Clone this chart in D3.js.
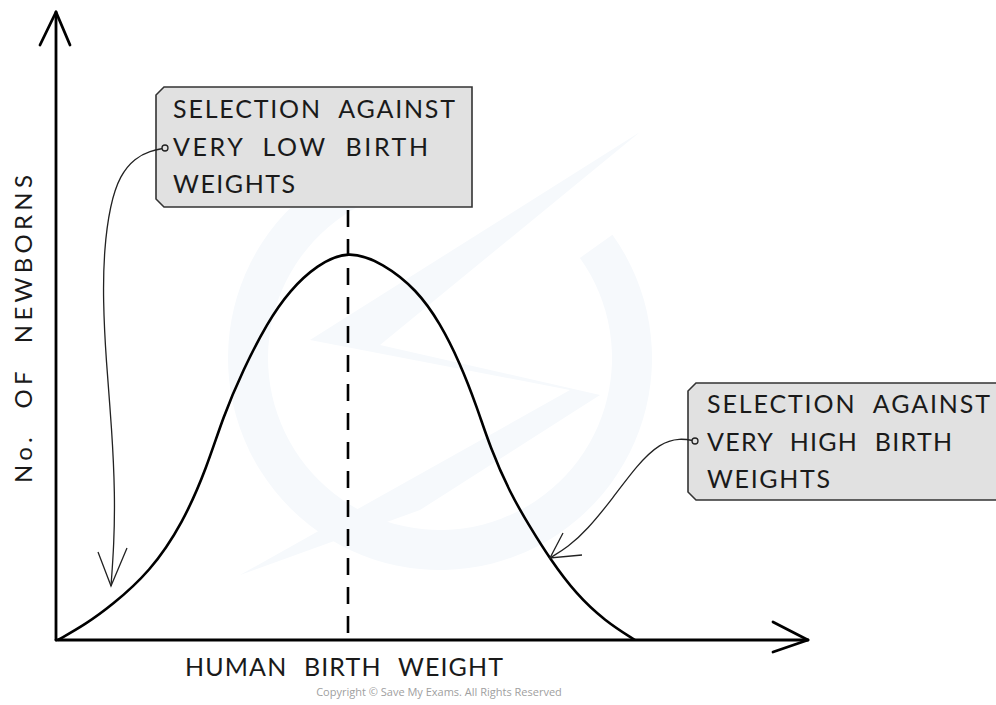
<!DOCTYPE html>
<html>
<head>
<meta charset="utf-8">
<script src="https://cdnjs.cloudflare.com/ajax/libs/d3/7.8.5/d3.min.js"></script>
<style>
	body { margin: 0; background: #fff; }
	svg { display: block; }
	.label { font-family: Lato, "Open Sans", sans-serif; fill: #1a1a1a; word-spacing: 9px; }
</style>
</head>
<body>
<div id="chart"></div>
<script>

// birth weight (arbitrary units) vs number of newborns
const curveX = [2, 30, 55, 94, 127, 151, 167, 187, 211, 234, 261, 292, 327, 361, 384, 404, 421, 434, 454, 474, 494, 520, 549, 579];
const curveY = [0, 16, 34, 68, 117, 173, 223, 270, 317, 350, 375, 390, 377, 350, 317, 277, 233, 193, 147, 113, 81, 46, 19, 0];

const meanX = 292;

const lowLabel = ["SELECTION AGAINST", "VERY LOW BIRTH", "WEIGHTS"];
const highLabel = ["SELECTION AGAINST", "VERY HIGH BIRTH", "WEIGHTS"];
const lowWidths = [282, 255, 122];
const highWidths = [283, 245, 123];

const lowArrowX = [109, 94, 79, 64, 54, 48, 47, 50, 56, 59, 58, 55];
const lowArrowY = [492, 489, 482, 465, 435, 390, 340, 280, 210, 145, 95, 54];
const highArrowX = [639, 624, 604, 581, 557, 531, 512, 494];
const highArrowY = [199, 202, 197, 175, 142, 110, 93, 82];

const xTitle = "HUMAN BIRTH WEIGHT";
const yTitle = "No. OF NEWBORNS";
const copyright = "Copyright \u00a9 Save My Exams. All Rights Reserved";

let width = 996;
let height = 705;

let svg = d3.select('#chart').append('svg')
.attr('width', width)
.attr('height', height);

let x = d3.scaleLinear().domain([0, 752]).range([56, 808]);
let y = d3.scaleLinear().domain([0, 628]).range([640, 12]);

// faint watermark
let mark = svg.append('g').attr('fill', '#f6f9fc');

mark.append('path')
.attr('d', d3.arc()({innerRadius: 172, outerRadius: 212, startAngle: 0.95, endAngle: 2 * Math.PI + 0.15}))
.attr('transform', 'translate(440,358)');

mark.append('path')
.attr('d', 'M640,132 L310,340 L570,390 L240,575 L420,510 L600,395 L380,345 Z');

// curve
let line = d3.line()
.x(d => x(d[0]))
.y(d => y(d[1]))
.curve(d3.curveBasis);

let pts = curveX.map((v, i) => [v, curveY[i]]);

svg.append('path')
.datum(pts)
.attr('d', line)
.attr('fill', 'none')
.attr('stroke', '#000')
.attr('stroke-width', 2.6);

// mean line
svg.append('line')
.attr('x1', x(meanX))
.attr('x2', x(meanX))
.attr('y1', 210)
.attr('y2', y(0))
.attr('stroke', '#000')
.attr('stroke-width', 2.6)
.attr('stroke-dasharray', '17,12');

// axes
let axes = svg.append('g')
.attr('fill', 'none')
.attr('stroke', '#000')
.attr('stroke-width', 2.8)
.attr('stroke-linecap', 'round')
.attr('stroke-linejoin', 'round');

axes.append('path')
.attr('d', `M${x(0)},${y(0)} L${x(0)},${y(628)}`);
axes.append('path')
.attr('d', `M${x(0) - 16},${y(628) + 33} L${x(0)},${y(628)} L${x(0) + 14},${y(628) + 33}`);

axes.append('path')
.attr('d', `M${x(0)},${y(0)} L${x(752)},${y(0)}`);
axes.append('path')
.attr('d', `M${x(752) - 35},${y(0) - 18} L${x(752)},${y(0)} L${x(752) - 35},${y(0) + 12}`);

// callout boxes
const drawBox = (x0, y0, x1, y1, lines, widths, tx, base) => {
	let c = 8;
	let g = svg.append('g');

	g.append('path')
	.attr('d', `M${x0 + c},${y0} L${x1},${y0} L${x1},${y1} L${x0 + c},${y1} L${x0},${y1 - c} L${x0},${y0 + c} Z`)
	.attr('fill', '#e1e1e1')
	.attr('stroke', '#333')
	.attr('stroke-width', 1.6);

	lines.forEach((t, i) => {
		g.append('text')
		.attr('class', 'label')
		.attr('x', tx)
		.attr('y', base + i * 37.5)
		.attr('font-size', 25)
		.attr('textLength', widths[i])
		.text(t);
	})
}

drawBox(156, 87, 472, 207, lowLabel, lowWidths, 173, 118);
drawBox(688, 383, 1010, 500, highLabel, highWidths, 707, 413);

// callout arrows
let thin = d3.line()
.x(d => x(d[0]))
.y(d => y(d[1]))
.curve(d3.curveBasis);

const drawArrow = (xs, ys, arms) => {
	let p = xs.map((v, i) => [v, ys[i]]);

	svg.append('path')
	.datum(p)
	.attr('d', thin)
	.attr('fill', 'none')
	.attr('stroke', '#222')
	.attr('stroke-width', 1.3);

	let tip = p[p.length - 1];
	let tx = x(tip[0]), ty = y(tip[1]);

	svg.append('path')
	.attr('d', `M${tx + arms[0]},${ty + arms[1]} L${tx},${ty} L${tx + arms[2]},${ty + arms[3]}`)
	.attr('fill', 'none')
	.attr('stroke', '#222')
	.attr('stroke-width', 1.3);

	svg.append('circle')
	.attr('cx', x(p[0][0]))
	.attr('cy', y(p[0][1]))
	.attr('r', 3)
	.attr('fill', '#e1e1e1')
	.attr('stroke', '#222')
	.attr('stroke-width', 1.3);
}

drawArrow(lowArrowX, lowArrowY, [-13, -34, 16, -38]);
drawArrow(highArrowX, highArrowY, [13, -25, 32, -3]);

// titles
svg.append('text')
.attr('class', 'label')
.attr('x', 185)
.attr('y', 676)
.attr('font-size', 25)
.attr('textLength', 318)
.text(xTitle);

svg.append('text')
.attr('class', 'label')
.attr('transform', 'translate(32,483) rotate(-90)')
.attr('font-size', 24)
.attr('textLength', 308)
.style('word-spacing', '14px')
.text(yTitle);

svg.append('text')
.attr('x', 439)
.attr('y', 696)
.attr('text-anchor', 'middle')
.attr('font-family', '"Open Sans", sans-serif')
.attr('font-size', 11)
.attr('fill', '#a0a0a0')
.text(copyright);

</script>
</body>
</html>
